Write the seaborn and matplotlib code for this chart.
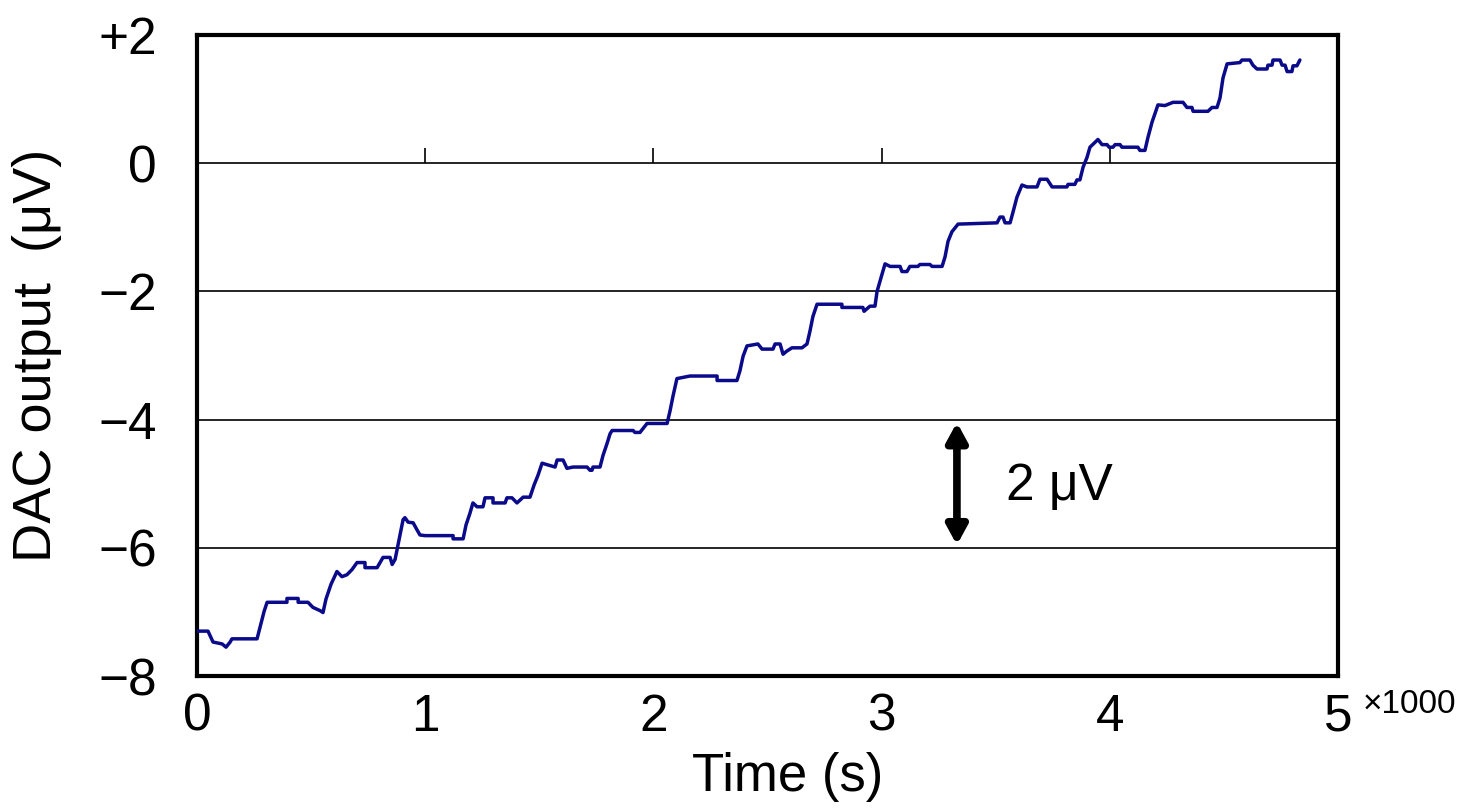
import matplotlib
matplotlib.use("Agg")
import matplotlib.pyplot as plt
import seaborn as sns
import pandas as pd

# Time in seconds, DAC output in microvolts
time_s = [0, 48, 70, 110, 127, 145, 153, 263, 276, 294, 307, 394, 394, 443, 443, 486, 508, 539, 552,
          565, 587, 613, 635, 657, 679, 701, 736, 736, 789, 802, 815, 846, 855, 868, 881, 903, 911,
          925, 947, 964, 977, 999, 1122, 1122, 1166, 1179, 1196, 1209,
          1227, 1253, 1262, 1297, 1297, 1350, 1358, 1380, 1402, 1429, 1459, 1477, 1494, 1512, 1569,
          1578, 1604, 1621, 1648, 1709, 1722, 1731, 1735, 1766, 1779, 1797, 1810, 1819, 1911, 1919,
          1941, 1972, 1998, 2060, 2073, 2086, 2103,
          2160, 2279, 2279, 2366, 2379, 2393, 2410, 2458, 2476, 2524, 2533, 2555, 2568, 2585, 2607,
          2651, 2673, 2686, 2699, 2717, 2826, 2826, 2918, 2923, 2949, 2971, 2980, 2993, 3015, 3037,
          3081, 3089, 3111, 3124, 3159, 3168, 3212, 3221, 3256,
          3265, 3278, 3291, 3308, 3335, 3506, 3519, 3532, 3541, 3563, 3576, 3593, 3615, 3637, 3681,
          3694, 3725, 3747, 3812, 3817, 3847, 3856, 3869, 3883, 3900, 3913,
          3948, 3966, 3988, 3997, 4014, 4023, 4045, 4053, 4123, 4132, 4154, 4167, 4185, 4211, 4242,
          4277, 4321, 4338, 4360, 4365, 4430, 4448, 4470, 4483, 4496, 4514, 4570, 4579, 4614, 4627,
          4645, 4689, 4693, 4711, 4715, 4746, 4755, 4768, 4777, 4798, 4803, 4820, 4833]
dac_uv = [-7.30, -7.30, -7.47, -7.50, -7.55, -7.47, -7.42, -7.42, -7.24, -6.99, -6.85, -6.85, -6.79,
          -6.79, -6.85, -6.85, -6.93, -6.98, -7.01,
          -6.80, -6.57, -6.37, -6.45, -6.42, -6.34, -6.23, -6.23, -6.31, -6.31, -6.23, -6.15, -6.15,
          -6.26, -6.18, -5.95, -5.56, -5.53, -5.60, -5.61, -5.72, -5.80, -5.81, -5.81, -5.86, -5.86,
          -5.64, -5.46, -5.30,
          -5.36, -5.36, -5.22, -5.22, -5.30, -5.30, -5.22, -5.22, -5.30, -5.21, -5.21, -5.02, -4.87,
          -4.68, -4.74, -4.63, -4.63, -4.76, -4.74, -4.74, -4.79, -4.79, -4.74, -4.74, -4.56, -4.37,
          -4.22, -4.17, -4.17, -4.20, -4.20, -4.06, -4.06, -4.06, -3.86, -3.63, -3.36,
          -3.32, -3.32, -3.39, -3.39, -3.24, -3.01, -2.85, -2.82, -2.90, -2.90, -2.82, -2.82, -2.98,
          -2.93, -2.88, -2.88, -2.82, -2.62, -2.39, -2.20, -2.20, -2.25, -2.25, -2.31, -2.23, -2.23,
          -2.00, -1.84, -1.57, -1.61, -1.61, -1.69, -1.69, -1.61, -1.61, -1.58, -1.58, -1.61, -1.61,
          -1.61, -1.46, -1.22, -1.07, -0.95, -0.93, -0.84, -0.84, -0.93, -0.93, -0.76, -0.53, -0.34,
          -0.37, -0.37, -0.25, -0.25, -0.37, -0.37, -0.33, -0.33, -0.26, -0.26, -0.06, 0.09, 0.25,
          0.37, 0.29, 0.29, 0.25, 0.25, 0.29, 0.29, 0.25, 0.25, 0.20, 0.20, 0.40, 0.64, 0.91, 0.90,
          0.95, 0.95, 0.87, 0.87, 0.81, 0.81, 0.87, 0.87, 1.02, 1.33, 1.55, 1.57, 1.61, 1.61, 1.53,
          1.47, 1.47, 1.53, 1.53, 1.61, 1.61, 1.53, 1.53, 1.43, 1.43, 1.52, 1.52, 1.61]

x_ticks = [0, 1, 2, 3, 4, 5]          # in units of 1000 s
y_ticks = [2, 0, -2, -4, -6, -8]
y_tick_labels = ["+2", "0", "\u22122", "\u22124", "\u22126", "\u22128"]
scale_bar = (-4, -6)                  # µV span of the annotated arrow
scale_text = "2 \u03bcV"

sns.set_style("white")
plt.rcParams["font.family"] = ["Liberation Sans", "DejaVu Sans"]
plt.rcParams["text.color"] = "black"
plt.rcParams["axes.labelcolor"] = "black"
plt.rcParams["xtick.color"] = "black"
plt.rcParams["ytick.color"] = "black"

df = pd.DataFrame({"t": [v / 1000 for v in time_s], "v": dac_uv})

fig = plt.figure(figsize=(14.76, 8.09), dpi=100)
ax = fig.add_axes([0.1335, 0.1644, 0.773, 0.7923])

sns.lineplot(data=df, x="t", y="v", ax=ax, color="#0a0a8a", linewidth=2.5,
             sort=False, estimator=None, zorder=3)

ax.set_xlim(0, 5)
ax.set_ylim(-8, 2)

ax.set_yticks(y_ticks)
ax.set_yticklabels(y_tick_labels)
ax.set_xticks(x_ticks)
ax.set_xticklabels([str(v) for v in x_ticks])
ax.tick_params(axis="y", length=0, pad=29, labelsize=37)
ax.tick_params(axis="x", length=0, pad=12, labelsize=37)

# horizontal grid
for yv in y_ticks[1:-1]:
    ax.axhline(yv, color="black", linewidth=1.2, zorder=1)

# x tick marks sitting on the 0 line
sec = ax.secondary_xaxis(0.8)
sec.set_xticks(x_ticks[1:])
sec.tick_params(axis="x", direction="out", length=11, width=1.2, labelbottom=False,
                labeltop=False, color="black")
sec.spines["top"].set_visible(False)
sec.spines["bottom"].set_visible(False)

for s in ax.spines.values():
    s.set_visible(True)
    s.set_color("black")
    s.set_linewidth(3)

ax.set_ylabel("DAC output  (\u03bcV)", fontsize=39)
ax.yaxis.set_label_coords(-0.118, 0.5)
ax.set_xlabel("Time (s)", fontsize=38)
ax.xaxis.set_label_coords(0.518, -0.118)

# scale arrow
arrow_t = 3.33
ax.annotate("", xy=(arrow_t, scale_bar[0]), xytext=(arrow_t, scale_bar[1]),
            arrowprops=dict(arrowstyle="<|-|>,head_length=1.1,head_width=0.6",
                            color="black", lw=5.5, shrinkA=2, shrinkB=2))
ax.text(3.545, -5.26, scale_text, fontsize=37, va="baseline", ha="left")

fig.text(0.9234, 0.1286, "\u00d71000", fontsize=24, ha="left", va="center")

fig.savefig("out.png", dpi=100)
